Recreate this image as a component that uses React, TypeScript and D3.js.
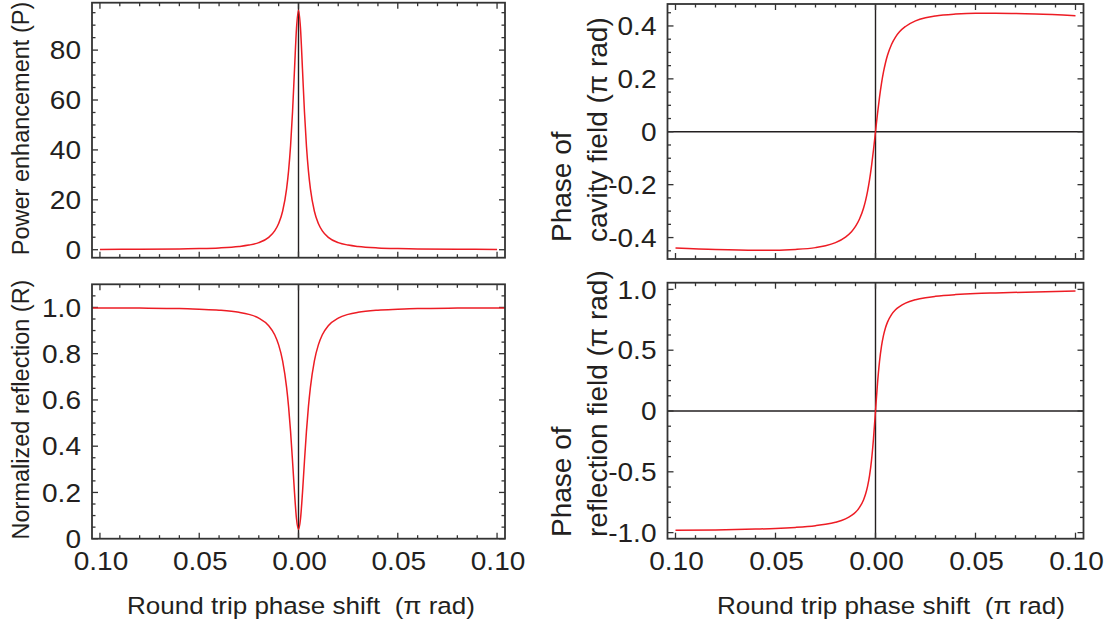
import React from "react";
import * as d3 from "d3";

// Round trip phase shift (π rad) sample positions
const X = [-0.1, -0.08, -0.06, -0.05, -0.04, -0.03, -0.025, -0.02, -0.015, -0.012, -0.01, -0.008, -0.006, -0.005, -0.004, -0.003, -0.002, -0.001, 0,
  0.001, 0.002, 0.003, 0.004, 0.005, 0.006, 0.008, 0.01, 0.012, 0.015, 0.02, 0.025, 0.03, 0.04, 0.05, 0.06, 0.08, 0.1];
const X_FULL = [-0.104, ...X, 0.104];

const POWER = [0.12, 0.18, 0.33, 0.47, 0.73, 1.29, 1.85, 2.85, 4.96, 7.52, 10.5, 15.4, 24.4, 31.6, 41.6, 55.3, 72.4, 88.8, 96,
  88.8, 72.4, 55.3, 41.6, 31.6, 24.4, 15.4, 10.5, 7.52, 4.96, 2.85, 1.85, 1.29, 0.73, 0.47, 0.33, 0.18, 0.12];
const REFLECTION = [0.998, 0.998, 0.997, 0.995, 0.992, 0.988, 0.979, 0.97, 0.954, 0.921, 0.882, 0.838, 0.769, 0.654, 0.571, 0.464, 0.335, 0.198, 0.085, 0.04,
  0.085, 0.198, 0.335, 0.464, 0.571, 0.654, 0.769, 0.838, 0.882, 0.921, 0.954, 0.97, 0.979, 0.988, 0.992, 0.995, 0.997, 0.998, 0.998];
const CAVITY_PHASE = [-0.439, -0.445, -0.448, -0.448, -0.445, -0.438, -0.431, -0.419, -0.398, -0.378, -0.358, -0.33, -0.289, -0.261, -0.226, -0.183, -0.13, -0.068, 0,
  0.068, 0.13, 0.183, 0.226, 0.261, 0.289, 0.33, 0.358, 0.378, 0.398, 0.419, 0.431, 0.438, 0.445, 0.448, 0.448, 0.445, 0.439];
const REFL_PHASE = [-0.98, -0.978, -0.971, -0.966, -0.957, -0.943, -0.932, -0.915, -0.887, -0.859, -0.833, -0.793, -0.731, -0.685, -0.622, -0.534, -0.406, -0.226, 0,
  0.226, 0.406, 0.534, 0.622, 0.685, 0.731, 0.793, 0.833, 0.859, 0.887, 0.915, 0.932, 0.943, 0.957, 0.966, 0.971, 0.979, 0.986];

const X_TICK_LABELS = [-0.1, -0.05, 0, 0.05, 0.1];
const P_TICKS = [0, 20, 40, 60, 80];
const R_TICKS = [0, 0.2, 0.4, 0.6, 0.8, 1.0];
const CAV_TICKS = [-0.4, -0.2, 0, 0.2, 0.4];
const RPH_TICKS = [-1.0, -0.5, 0, 0.5, 1.0];

const TEXT = "#231f20";
const FRAME = "#333333";
const RED = "#ed1c24";
const FONT = "'Liberation Sans', Arial, Helvetica, sans-serif";

type PanelProps = {
  x0: number; x1: number; y0: number; y1: number;
  yDomain: [number, number];
  yTicks: number[]; yMinorStep: number; yMinorRange: [number, number];
  yFmt: (v: number) => string;
  xs: number[]; ys: number[];
  showXLabels: boolean; zeroH: boolean; labelRight: number;
};

function Panel(p: PanelProps) {
  const x = d3.scaleLinear().domain([-0.104, 0.104]).range([p.x0, p.x1]);
  const y = d3.scaleLinear().domain(p.yDomain).range([p.y1, p.y0]);
  const line = d3.line<number>().x((_, i) => x(p.xs[i])).y((d) => y(d)).curve(d3.curveMonotoneX);
  const xTicks = d3.range(-10, 11).map((i) => i / 100);
  const nMinor = Math.round((p.yMinorRange[1] - p.yMinorRange[0]) / p.yMinorStep);
  const yMinor = d3.range(0, nMinor + 1).map((i) => p.yMinorRange[0] + i * p.yMinorStep);
  const isMajorX = (v: number) => Math.abs(Math.round(v * 100)) % 5 === 0;
  const isMajorY = (v: number) => p.yTicks.some((t) => Math.abs(t - v) < 1e-9);
  const MAJ = 6, MIN = 3.5;
  return (
    <g>
      <line x1={x(0)} x2={x(0)} y1={p.y0} y2={p.y1} stroke={TEXT} strokeWidth={1.4} />
      {p.zeroH && <line x1={p.x0} x2={p.x1} y1={y(0)} y2={y(0)} stroke={TEXT} strokeWidth={1.4} />}
      {xTicks.map((v, i) => {
        const len = isMajorX(v) ? MAJ : MIN;
        return (
          <g key={"xt" + i} stroke={FRAME} strokeWidth={1.3}>
            <line x1={x(v)} x2={x(v)} y1={p.y1} y2={p.y1 - len} />
            <line x1={x(v)} x2={x(v)} y1={p.y0} y2={p.y0 + len} />
          </g>
        );
      })}
      {yMinor.map((v, i) => {
        const len = isMajorY(v) ? MAJ : MIN;
        return (
          <g key={"yt" + i} stroke={FRAME} strokeWidth={1.3}>
            <line x1={p.x0} x2={p.x0 + len} y1={y(v)} y2={y(v)} />
            <line x1={p.x1} x2={p.x1 - len} y1={y(v)} y2={y(v)} />
          </g>
        );
      })}
      <path d={line(p.ys) || ""} fill="none" stroke={RED} strokeWidth={1.5} />
      <rect x={p.x0} y={p.y0} width={p.x1 - p.x0} height={p.y1 - p.y0} fill="none" stroke={FRAME} strokeWidth={1.8} />
      {p.yTicks.map((v, i) => (
        <text key={"yl" + i} transform={`translate(${p.labelRight},${y(v)}) scale(1.1,1)`} dy="0.36em"
          textAnchor="end" fontSize={25.5} fill={TEXT} fontFamily={FONT}>{p.yFmt(v)}</text>
      ))}
      {p.showXLabels && X_TICK_LABELS.map((v, i) => (
        <text key={"xl" + i} transform={`translate(${x(v) + 1},570) scale(1.1,1)`}
          textAnchor="middle" fontSize={25.5} fill={TEXT} fontFamily={FONT}>{Math.abs(v).toFixed(2)}</text>
      ))}
    </g>
  );
}

export default function App() {
  const fmtInt = (v: number) => String(v);
  const fmt1 = (v: number) => (v === 0 ? "0" : v.toFixed(1));
  const L0 = 92, L1 = 505, R0 = 667.5, R1 = 1083.5;
  return (
    <svg width={1111} height={626} style={{ position: "absolute", left: 0, top: 0, background: "#fff" }}>
      <rect x={0} y={0} width={1111} height={626} fill="#fff" />
      <Panel x0={L0} x1={L1} y0={2.7} y1={257.7} yDomain={[-3.2, 99]} yTicks={P_TICKS} yMinorStep={5} yMinorRange={[0, 95]}
        yFmt={fmtInt} xs={X} ys={POWER} showXLabels={false} zeroH={false} labelRight={81} />
      <Panel x0={L0} x1={L1} y0={284.3} y1={538.7} yDomain={[0, 1.1]} yTicks={R_TICKS} yMinorStep={0.05} yMinorRange={[0, 1.05]}
        yFmt={fmt1} xs={X_FULL} ys={REFLECTION} showXLabels={true} zeroH={false} labelRight={81} />
      <Panel x0={R0} x1={R1} y0={4} y1={259} yDomain={[-0.481, 0.483]} yTicks={CAV_TICKS} yMinorStep={0.05} yMinorRange={[-0.45, 0.45]}
        yFmt={fmt1} xs={X} ys={CAVITY_PHASE} showXLabels={false} zeroH={true} labelRight={656.5} />
      <Panel x0={R0} x1={R1} y0={282.7} y1={538.7} yDomain={[-1.05, 1.055]} yTicks={RPH_TICKS} yMinorStep={0.125} yMinorRange={[-1, 1]}
        yFmt={fmt1} xs={X} ys={REFL_PHASE} showXLabels={true} zeroH={true} labelRight={656.5} />

      <text transform="translate(21,128.5) rotate(-90)" dy="0.36em" textAnchor="middle" fontSize={23.5} fill={TEXT} fontFamily={FONT}>Power enhancement (P)</text>
      <text transform="translate(21,409.5) rotate(-90)" dy="0.36em" textAnchor="middle" fontSize={23.5} fill={TEXT} fontFamily={FONT}>Normalized reflection (R)</text>

      <text transform="translate(561,242) rotate(-90)" dy="0.36em" textAnchor="start" fontSize={28} fill={TEXT} fontFamily={FONT}>Phase of</text>
      <text transform="translate(597,242) rotate(-90)" dy="0.36em" textAnchor="start" fontSize={28} fill={TEXT} fontFamily={FONT}>cavity field (π rad)</text>
      <text transform="translate(561,537) rotate(-90)" dy="0.36em" textAnchor="start" fontSize={28} fill={TEXT} fontFamily={FONT}>Phase of</text>
      <text transform="translate(597,537) rotate(-90)" dy="0.36em" textAnchor="start" fontSize={28} fill={TEXT} fontFamily={FONT}>reflection field (π rad)</text>

      <text x={301} y={614} textAnchor="middle" fontSize={24.5} fill={TEXT} fontFamily={FONT} textLength={348} lengthAdjust="spacingAndGlyphs" xmlSpace="preserve">Round trip phase shift  (π rad)</text>
      <text x={891} y={614} textAnchor="middle" fontSize={24.5} fill={TEXT} fontFamily={FONT} textLength={348} lengthAdjust="spacingAndGlyphs" xmlSpace="preserve">Round trip phase shift  (π rad)</text>
    </svg>
  );
}
